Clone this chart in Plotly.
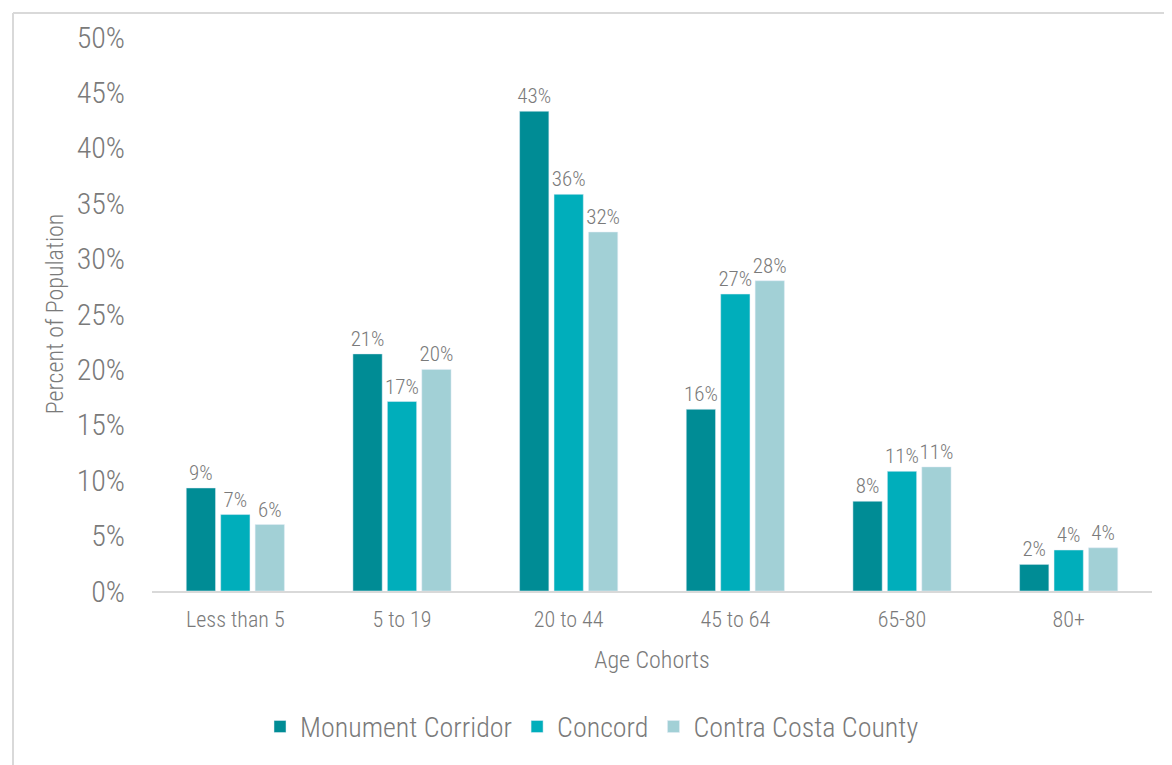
import plotly.graph_objects as go

categories = ["Less than 5", "5 to 19", "20 to 44", "45 to 64", "65-80", "80+"]
monument = [9.3, 21.4, 43.3, 16.4, 8.1, 2.4]
concord = [6.9, 17.1, 35.8, 26.8, 10.8, 3.7]
contra_costa = [6.0, 20.0, 32.4, 28.0, 11.2, 3.9]
y_ticks = [0, 5, 10, 15, 20, 25, 30, 35, 40, 45, 50]

FONT = "Liberation Sans Narrow, Arial Narrow, Roboto Condensed, Liberation Sans, sans-serif"
TEXT = "#7a7a7a"

W, H = 1172, 765
L, R, T, B = 144, 28, 29, 182

fig = go.Figure()
for name, vals, color in [
    ("Monument Corridor", monument, "#008C95"),
    ("Concord", concord, "#00AEBB"),
    ("Contra Costa County", contra_costa, "#A2D0D6"),
]:
    fig.add_trace(
        go.Bar(
            x=categories,
            y=vals,
            name=name,
            marker_color=color,
            text=[f"{round(v):.0f}%" for v in vals],
            textposition="outside",
            constraintext="none",
            textfont=dict(family=FONT, size=21, color=TEXT, weight=300),
            cliponaxis=False,
        )
    )

# light frame around the chart (only left and top edges show in the picture)
pw = W - L - R
ph = H - T - B
fig.add_shape(type="line", xref="paper", yref="paper",
              x0=(5 - L) / pw, x1=(W - L) / pw, y0=(H - 5 - B) / ph, y1=(H - 5 - B) / ph,
              line=dict(color="#d9d9d9", width=2))
fig.add_shape(type="line", xref="paper", yref="paper",
              x0=(5 - L) / pw, x1=(5 - L) / pw, y0=-B / ph, y1=(H - 5 - B) / ph,
              line=dict(color="#d9d9d9", width=2))

fig.update_layout(
    width=W,
    height=H,
    margin=dict(l=L, r=R, t=T, b=B),
    paper_bgcolor="white",
    plot_bgcolor="white",
    barmode="group",
    bargap=0.38,
    bargroupgap=0.15,
    font=dict(family=FONT, color=TEXT, weight=300),
    xaxis=dict(
        showline=True,
        linecolor="#d9d9d9",
        linewidth=2,
        ticks="",
        ticklabelstandoff=8,
        tickfont=dict(size=22, color=TEXT, weight=300),
        title=dict(text="Age Cohorts", font=dict(size=24, color=TEXT, weight=300), standoff=20),
    ),
    yaxis=dict(
        range=[0, 50],
        tickvals=y_ticks,
        ticktext=[f"{v}%" for v in y_ticks],
        showgrid=False,
        zeroline=False,
        ticklabelstandoff=26,
        tickfont=dict(size=30, color=TEXT, weight=300),
        title=dict(text="Percent of Population", font=dict(size=24, color=TEXT, weight=300), standoff=6),
    ),
    legend=dict(
        orientation="h",
        x=0.44,
        xanchor="center",
        y=-0.2,
        yanchor="top",
        font=dict(size=28, color=TEXT, weight=300),
        itemwidth=30,
        traceorder="normal",
    ),
)

fig.write_html("out.html")
